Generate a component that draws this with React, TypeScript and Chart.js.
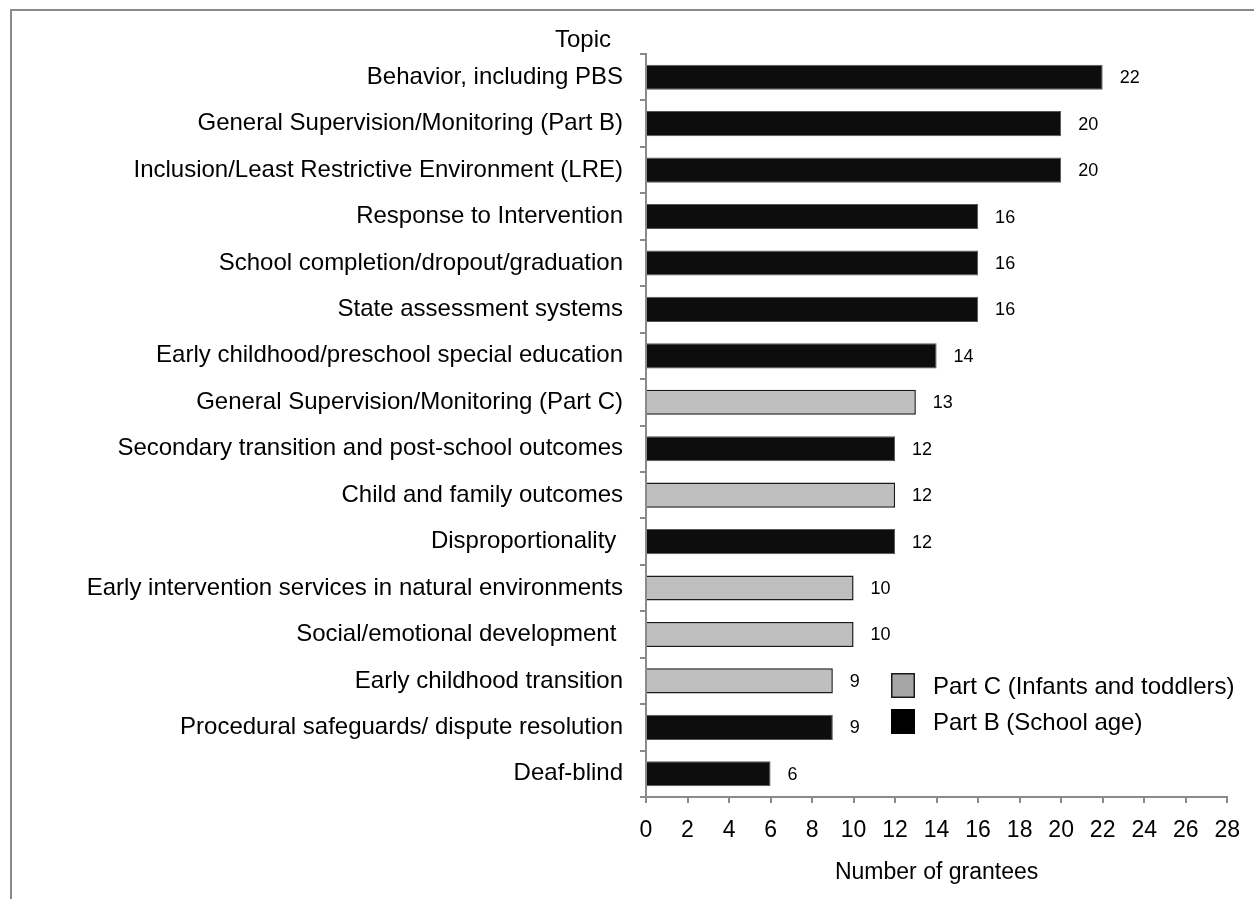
import React, { useEffect, useRef } from "react";
import { Chart, registerables } from "chart.js";

Chart.register(...registerables);

// Topics, top to bottom
const topics: string[] = [
  "Behavior, including PBS",
  "General Supervision/Monitoring (Part B)",
  "Inclusion/Least Restrictive Environment (LRE)",
  "Response to Intervention",
  "School completion/dropout/graduation",
  "State assessment systems",
  "Early childhood/preschool special education",
  "General Supervision/Monitoring (Part C)",
  "Secondary transition and post-school outcomes",
  "Child and family outcomes",
  "Disproportionality ",
  "Early intervention services in natural environments",
  "Social/emotional development ",
  "Early childhood transition",
  "Procedural safeguards/ dispute resolution",
  "Deaf-blind",
];

// Number of grantees per topic, split by program part (null = not that part)
const partC: (number | null)[] = [null, null, null, null, null, null, null, 13, null, 12, null, 10, 10, 9, null, null];
const partB: (number | null)[] = [22, 20, 20, 16, 16, 16, 14, null, 12, null, 12, null, null, null, 9, 6];

const seriesNames: string[] = ["Part C (Infants and toddlers)", "Part B (School age)"];
const xTicks: number[] = [0, 2, 4, 6, 8, 10, 12, 14, 16, 18, 20, 22, 24, 26, 28];

const FONT = "'Liberation Sans', Arial, Helvetica, sans-serif";
const AXIS_GRAY = "#8a8a8a";
const C_FILL = "#bfbfbf";
const B_FILL = "#0d0d0d";

const valueLabels = {
  id: "valueLabels",
  afterDatasetsDraw(chart: any) {
    const { ctx } = chart;
    ctx.save();
    ctx.font = `18px ${FONT}`;
    ctx.fillStyle = "#000";
    ctx.textAlign = "left";
    ctx.textBaseline = "middle";
    chart.data.datasets.forEach((ds: any, di: number) => {
      const meta = chart.getDatasetMeta(di);
      meta.data.forEach((el: any, i: number) => {
        const v = ds.data[i];
        if (v === null || v === undefined) return;
        ctx.fillText(String(v), el.x + 17, el.y + 1);
      });
    });
    ctx.restore();
  },
};

const extras = {
  id: "extras",
  afterDraw(chart: any) {
    const { ctx, chartArea } = chart;
    ctx.save();
    // axis heading for the topics
    ctx.font = `24px ${FONT}`;
    ctx.fillStyle = "#000";
    ctx.textAlign = "center";
    ctx.textBaseline = "middle";
    ctx.fillText("Topic", chartArea.left - 63, chartArea.top - 14);

    // legend
    const items = [
      { text: seriesNames[0], fill: "#a6a6a6", stroke: "#1a1a1a" },
      { text: seriesNames[1], fill: "#000000", stroke: "#000000" },
    ];
    const bx = chartArea.left + 245;
    const by = 673;
    items.forEach((it, k) => {
      const y = by + k * 36;
      ctx.fillStyle = it.fill;
      ctx.fillRect(bx, y, 24, 25);
      ctx.strokeStyle = it.stroke;
      ctx.lineWidth = 1.5;
      ctx.strokeRect(bx + 0.75, y + 0.75, 22.5, 23.5);
      ctx.fillStyle = "#000";
      ctx.textAlign = "left";
      ctx.textBaseline = "middle";
      ctx.font = `24px ${FONT}`;
      ctx.fillText(it.text, bx + 42, y + 14);
    });
    ctx.restore();
  },
};

export default function App() {
  const canvasRef = useRef<HTMLCanvasElement | null>(null);

  useEffect(() => {
    if (!canvasRef.current) return;
    Chart.defaults.font.family = FONT;
    const chart = new Chart(canvasRef.current, {
      type: "bar",
      data: {
        labels: topics,
        datasets: [
          {
            label: seriesNames[0],
            data: partC,
            backgroundColor: C_FILL,
            borderColor: "#1a1a1a",
            borderWidth: 1.5,
            grouped: false,
            barPercentage: 0.54,
            categoryPercentage: 1,
          } as any,
          {
            label: seriesNames[1],
            data: partB,
            backgroundColor: B_FILL,
            borderColor: "#555555",
            borderWidth: 1,
            grouped: false,
            barPercentage: 0.54,
            categoryPercentage: 1,
          } as any,
        ],
      },
      options: {
        indexAxis: "y",
        animation: false,
        responsive: false,
        maintainAspectRatio: false,
        layout: { padding: { top: 54, right: 26, bottom: 0, left: 0 } },
        plugins: {
          legend: { display: false },
          tooltip: { enabled: false },
        },
        scales: {
          x: {
            min: 0,
            max: 28,
            afterBuildTicks: (scale: any) => {
              scale.ticks = xTicks.map((v) => ({ value: v }));
            },
            afterFit: (scale: any) => {
              scale.height = 102;
            },
            grid: {
              drawOnChartArea: false,
              drawTicks: true,
              tickLength: 6,
              color: AXIS_GRAY,
              lineWidth: 2,
            },
            border: { display: true, color: AXIS_GRAY, width: 2 },
            ticks: {
              color: "#000",
              font: { size: 23, family: FONT },
              padding: 14,
              maxRotation: 0,
              autoSkip: false,
            },
            title: {
              display: true,
              text: "Number of grantees",
              color: "#000",
              font: { size: 23, family: FONT },
              padding: { top: 0, bottom: 13 },
            },
          },
          y: {
            afterFit: (scale: any) => {
              scale.width = 646;
            },
            grid: {
              drawOnChartArea: false,
              drawTicks: true,
              tickLength: 6,
              color: AXIS_GRAY,
              lineWidth: 2,
              offset: true,
            },
            border: { display: true, color: AXIS_GRAY, width: 2 },
            ticks: {
              color: "#000",
              font: { size: 24, family: FONT },
              padding: 17,
              autoSkip: false,
            },
          },
        },
      },
      plugins: [valueLabels, extras],
    });
    return () => chart.destroy();
  }, []);

  return (
    <div style={{ position: "absolute", left: 0, top: 0, width: 1254, height: 899, background: "#fff" }}>
      <div
        style={{
          position: "absolute",
          left: 10,
          top: 9,
          right: 0,
          bottom: 0,
          borderTop: `2px solid ${AXIS_GRAY}`,
          borderLeft: `2px solid ${AXIS_GRAY}`,
        }}
      />
      <canvas
        ref={canvasRef}
        width={1254}
        height={899}
        style={{ position: "absolute", left: 0, top: 0, width: 1254, height: 899 }}
      />
    </div>
  );
}
